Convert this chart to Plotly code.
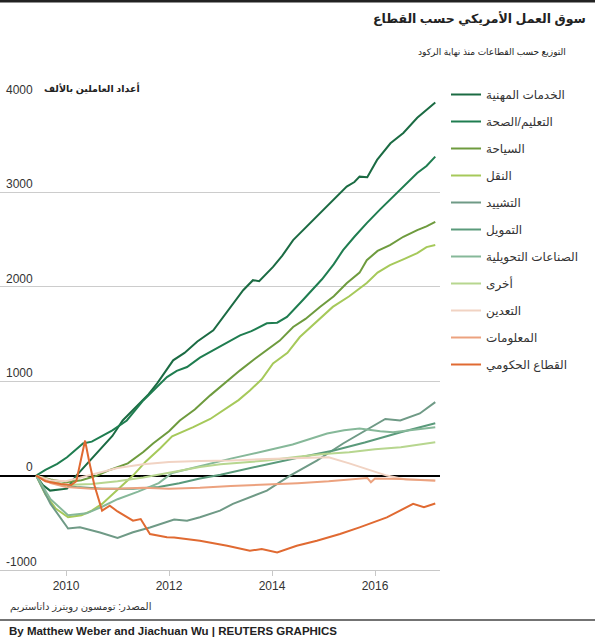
import plotly.graph_objects as go

# ---- data (thousands of jobs change since June 2009) ----
names = ["الخدمات المهنية", "التعليم/الصحة", "السياحة", "النقل", "التشييد", "التمويل",
         "الصناعات التحويلية", "أخرى", "التعدين", "المعلومات", "القطاع الحكومي"]

prof_x = [2009.42, 2009.55, 2009.69, 2009.85, 2010.02, 2010.2, 2010.4, 2010.66, 2010.9, 2011.1, 2011.38, 2011.6, 2011.77,
          2012.08, 2012.3, 2012.55, 2012.86, 2013.1, 2013.44, 2013.63, 2013.75, 2014.02, 2014.2, 2014.41, 2014.74, 2014.99,
          2015.2, 2015.45, 2015.6, 2015.7, 2015.85, 2016.04, 2016.3, 2016.55, 2016.82, 2017.0, 2017.17]
prof_y = [0, -100, -159, -150, -138, 0, 120, 265, 420, 584, 743, 860, 977,
          1221, 1300, 1420, 1539, 1720, 1964, 2070, 2060, 2211, 2330, 2495, 2675, 2813,
          2930, 3061, 3110, 3167, 3160, 3344, 3520, 3630, 3790, 3870, 3952]

edu_x = [2009.42, 2009.6, 2009.83, 2010.02, 2010.33, 2010.5, 2010.66, 2010.9, 2011.18, 2011.5, 2011.75, 2011.96, 2012.15,
         2012.35, 2012.6, 2012.86, 2013.1, 2013.38, 2013.6, 2013.9, 2014.1, 2014.29, 2014.6, 2014.97, 2015.2, 2015.38,
         2015.6, 2015.84, 2016.1, 2016.35, 2016.6, 2016.82, 2017.0, 2017.17]
edu_y = [0, 60, 124, 194, 340, 360, 407, 480, 584, 796, 930, 1043, 1110,
         1150, 1250, 1327, 1400, 1486, 1530, 1613, 1620, 1681, 1860, 2080, 2240, 2389,
         2530, 2675, 2820, 2954, 3080, 3206, 3280, 3379]

leisure_x = [2009.42, 2009.7, 2010.0, 2010.3, 2010.6, 2010.85, 2011.2, 2011.5, 2011.69, 2012.0, 2012.21, 2012.5, 2012.8,
             2013.1, 2013.38, 2013.65, 2013.9, 2014.15, 2014.41, 2014.65, 2014.93, 2015.2, 2015.45, 2015.7, 2015.84,
             2016.05, 2016.29, 2016.55, 2016.82, 2017.0, 2017.17]
leisure_y = [0, -40, -70, -50, 0, 60, 130, 250, 340, 470, 584, 700, 850,
             990, 1115, 1230, 1327, 1430, 1574, 1660, 1787, 1900, 2038, 2150, 2282,
             2380, 2442, 2530, 2601, 2640, 2689]

transport_x = [2009.42, 2009.6, 2009.8, 2010.04, 2010.3, 2010.5, 2010.7, 2010.9, 2011.1, 2011.3, 2011.55, 2011.83, 2012.06,
               2012.47, 2012.8, 2013.13, 2013.35, 2013.57, 2013.8, 2014.02, 2014.3, 2014.54, 2014.85, 2015.18, 2015.5,
               2015.84, 2016.05, 2016.29, 2016.55, 2016.82, 2017.0, 2017.17]
transport_y = [0, -200, -350, -441, -420, -371, -300, -200, -100, 0, 150, 290, 417,
               513, 600, 725, 800, 902, 1020, 1189, 1300, 1468, 1620, 1787, 1900,
               2040, 2150, 2229, 2290, 2357, 2420, 2442]

constr_x = [2009.42, 2009.7, 2010.04, 2010.27, 2010.66, 2011.0, 2011.3, 2011.63, 2012.1, 2012.35, 2012.6, 2012.99,
            2013.24, 2013.9, 2014.35, 2014.87, 2015.38, 2016.04, 2016.2, 2016.49, 2016.87, 2017.17]
constr_y = [0, -300, -560, -548, -602, -660, -600, -550, -466, -477, -442, -371,
            -300, -159, 0, 159, 340, 552, 600, 584, 658, 778]

finance_x = [2009.42, 2009.8, 2010.2, 2010.7, 2011.3, 2011.8, 2012.2, 2012.6, 2013.0, 2013.5, 2013.9, 2014.5,
             2015.2, 2015.8, 2016.5, 2016.9, 2017.17]
finance_y = [0, -80, -120, -140, -140, -120, -80, -30, 10, 70, 124, 190,
             265, 350, 460, 520, 555]

manuf_x = [2009.42, 2009.7, 2010.04, 2010.4, 2010.7, 2011.0, 2011.4, 2011.8, 2012.06, 2012.6, 2013.2, 2013.9,
           2014.4, 2015.07, 2015.4, 2015.7, 2016.1, 2016.35, 2016.7, 2017.0, 2017.17]
manuf_y = [0, -250, -420, -400, -330, -250, -170, -80, 28, 100, 180, 265,
           330, 446, 480, 499, 470, 460, 480, 500, 513]

other_x = [2009.42, 2009.7, 2010.0, 2010.5, 2011.0, 2011.5, 2012.0, 2012.6, 2013.0, 2013.4, 2013.9, 2014.5,
           2015.0, 2015.5, 2016.0, 2016.5, 2016.9, 2017.17]
other_y = [0, -60, -100, -90, -60, -20, 30, 90, 120, 141, 160, 200,
           230, 247, 280, 300, 330, 354]

mining_x = [2009.42, 2009.7, 2010.0, 2010.3, 2010.7, 2011.0, 2011.5, 2012.0, 2012.6, 2013.2, 2013.9, 2014.5,
            2015.1, 2015.5, 2015.9, 2016.23, 2016.6, 2017.17]
mining_y = [0, -50, -60, -20, 40, 80, 120, 145, 155, 160, 175, 185,
            195, 130, 60, 0, -40, -50]

info_x = [2009.42, 2009.7, 2010.0, 2010.5, 2011.0, 2011.5, 2012.0, 2012.6, 2013.2, 2013.9, 2014.5, 2015.1,
          2015.6, 2015.85, 2015.92, 2016.0, 2016.5, 2017.17]
info_y = [0, -80, -120, -140, -140, -130, -140, -130, -110, -95, -80, -60,
          -40, -25, -70, -30, -35, -55]

gov_x = [2009.42, 2009.6, 2009.9, 2010.1, 2010.2, 2010.28, 2010.37, 2010.45, 2010.55, 2010.7, 2010.85, 2011.0,
         2011.3, 2011.45, 2011.63, 2011.96, 2012.1, 2012.6, 2012.99, 2013.13, 2013.57, 2013.8, 2014.1, 2014.48,
         2014.87, 2015.32, 2015.7, 2016.23, 2016.74, 2016.95, 2017.17]
gov_y = [0, -60, -90, -100, -60, 150, 371, 150, -100, -371, -318, -380,
         -477, -460, -619, -654, -656, -690, -725, -743, -796, -778, -814, -743,
         -690, -619, -548, -442, -300, -336, -295]

xs = [prof_x, edu_x, leisure_x, transport_x, constr_x, finance_x, manuf_x, other_x, mining_x, info_x, gov_x]
ys = [prof_y, edu_y, leisure_y, transport_y, constr_y, finance_y, manuf_y, other_y, mining_y, info_y, gov_y]
colors = ["#1b6b43", "#1f7d50", "#6e9b3e", "#a6c95a", "#6f9a86", "#5a9a7b",
          "#86b899", "#b7d68f", "#f1d3c3", "#eca27f", "#e06a32"]

tick_years = [2010, 2012, 2014, 2016]
y_ticks = [-1000, 0, 1000, 2000, 3000, 4000]
y_tick_text = ["-1000", "\u2007\u2007\u20070", "1000", "2000", "3000", "4000"]

FONT = "Liberation Sans, Arial, DejaVu Sans, sans-serif"

fig = go.Figure()
for n, x, y, c in zip(names, xs, ys, colors):
    fig.add_trace(go.Scatter(x=x, y=y, mode="lines", name=n, legendgroup=n,
                             line=dict(color=c, width=2)))

# plot area: left 0, width 440 px; top 98, height 472 px
W, T, H = 440, 98, 472
def px(x):
    return x / W
def py(y):
    return (T + H - y) / H

fig.update_layout(
    width=595, height=640,
    margin=dict(l=0, r=155, t=T, b=640 - T - H),
    paper_bgcolor="white", plot_bgcolor="white",
    font=dict(family=FONT, size=12, color="#333"),
    showlegend=True,
    legend=dict(x=px(446), y=py(80), xanchor="left", yanchor="top",
                font=dict(size=12, color="#333"), tracegroupgap=8,
                itemwidth=30, bgcolor="rgba(0,0,0,0)"),
    xaxis=dict(range=[2008.718, 2017.262], tickvals=tick_years, ticktext=[str(t) for t in tick_years],
               showgrid=False, zeroline=False, showline=True, linecolor="#c8c8c8", linewidth=1,
               ticks="outside", ticklen=5, tickcolor="#c8c8c8",
               tickfont=dict(size=12, color="#333")),
    yaxis=dict(range=[-1000, 4000], tickvals=y_ticks, ticktext=y_tick_text,
               showgrid=True, gridcolor="#cccccc", gridwidth=1,
               zeroline=True, zerolinecolor="#000000", zerolinewidth=2,
               ticklabelposition="inside top", ticklabeloverflow="allow", ticklabelstandoff=3,
               ticks="", showline=False, tickfont=dict(size=12, color="#333")),
)

annots = [
    dict(text="<b>سوق العمل الأمريكي حسب القطاع</b>", x=px(588), y=py(18), xanchor="right", yanchor="middle",
         align="right", font=dict(size=12.5, color="#222")),
    dict(text="التوزيع حسب القطاعات منذ نهاية الركود", x=px(568), y=py(52), xanchor="right", yanchor="middle",
         align="right", font=dict(size=9, color="#222")),
    dict(text="<b>أعداد العاملين بالألف</b>", x=px(42), y=py(88), xanchor="left", yanchor="middle",
         align="left", font=dict(size=9.5, color="#222")),
    dict(text="المصدر: تومسون رويترز داتاستريم", x=px(8), y=py(607), xanchor="left", yanchor="middle",
         align="left", font=dict(size=10, color="#333")),
    dict(text="<b>By Matthew Weber and Jiachuan Wu | REUTERS GRAPHICS</b>", x=px(7), y=py(631),
         xanchor="left", yanchor="middle", align="left", font=dict(size=11.5, color="#222")),
]
for a in annots:
    a.update(xref="paper", yref="paper", showarrow=False)
    fig.add_annotation(**a)

fig.add_shape(type="line", xref="paper", yref="paper", x0=0, x1=px(595), y0=py(1), y1=py(1),
              line=dict(color="#222", width=3))
fig.add_shape(type="line", xref="paper", yref="paper", x0=0, x1=px(595), y0=py(620), y1=py(620),
              line=dict(color="#444", width=1.5))

fig.write_html("out.html", config={"displayModeBar": False},
               post_script="document.body.style.margin='0';document.body.style.overflow='hidden';")
